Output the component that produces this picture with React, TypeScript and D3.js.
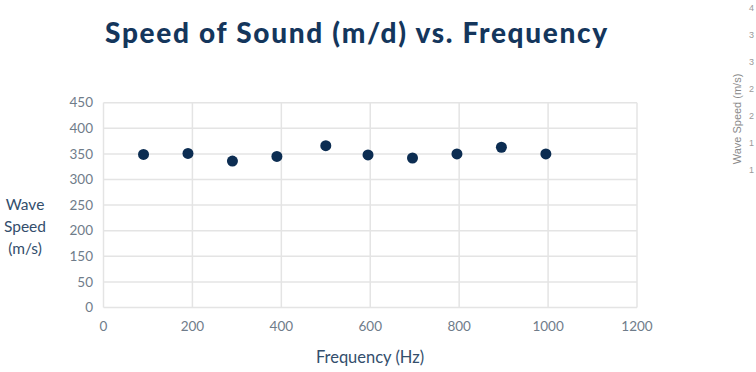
import React, { useEffect, useRef } from 'react';
import * as d3 from 'd3';

// measured data (frequency in Hz, wave speed in m/s)
const frequencies = [90, 190, 290, 390, 500, 595, 695, 795, 895, 995];
const speeds = [349, 351, 336, 345, 366, 348, 342, 350, 363, 350];

const xTicks = [0, 200, 400, 600, 800, 1000, 1200];
// the original chart skips the 100 label, gridlines stay evenly spaced
const yTicks = [0, 50, 150, 200, 250, 300, 350, 400, 450];

// fragment of a neighbouring chart cut off on the right edge
const sideTicks = ['4', '3', '3', '2', '2', '1', '1'];

const App = () => {
  const ref = useRef<SVGSVGElement>(null);

  useEffect(() => {
    const svg = d3.select(ref.current);
    svg.selectAll('*').remove();

    const left = 103.5;
    const right = 637;
    const top = 102.7;
    const bottom = 307.5;

    const x = d3.scaleLinear().domain([0, 1200]).range([left, right]);

    // polylinear scale so each label sits on its own evenly spaced gridline
    const step = (bottom - top) / (yTicks.length - 1);
    const y = d3
      .scaleLinear()
      .domain(yTicks)
      .range(yTicks.map((_, i) => bottom - i * step));

    const grid = svg.append('g');
    grid
      .selectAll('.hgrid')
      .data(yTicks)
      .enter()
      .append('line')
      .attr('x1', left)
      .attr('x2', right)
      .attr('y1', d => y(d))
      .attr('y2', d => y(d))
      .attr('stroke', '#e4e4e4')
      .attr('stroke-width', 1.5);
    grid
      .selectAll('.vgrid')
      .data(xTicks)
      .enter()
      .append('line')
      .attr('x1', d => x(d))
      .attr('x2', d => x(d))
      .attr('y1', top)
      .attr('y2', bottom)
      .attr('stroke', '#e4e4e4')
      .attr('stroke-width', 1.5);

    svg
      .append('g')
      .selectAll('text')
      .data(yTicks)
      .enter()
      .append('text')
      .attr('x', 93)
      .attr('y', d => y(d))
      .attr('dy', '0.35em')
      .attr('text-anchor', 'end')
      .attr('font-family', 'Lato')
      .attr('font-size', 13.5)
      .attr('fill', '#6f7c8a')
      .text(d => d);

    svg
      .append('g')
      .selectAll('text')
      .data(xTicks)
      .enter()
      .append('text')
      .attr('x', d => x(d))
      .attr('y', 331)
      .attr('text-anchor', 'middle')
      .attr('font-family', 'Lato')
      .attr('font-size', 13.5)
      .attr('fill', '#6f7c8a')
      .text(d => d);

    svg
      .append('g')
      .selectAll('circle')
      .data(frequencies)
      .enter()
      .append('circle')
      .attr('cx', (d, i) => x(d))
      .attr('cy', (d, i) => y(speeds[i]))
      .attr('r', 5.5)
      .attr('fill', '#0c2d52');

    svg
      .append('text')
      .attr('x', 357)
      .attr('y', 43)
      .attr('text-anchor', 'middle')
      .attr('font-family', 'Lato')
      .attr('font-weight', 900)
      .attr('font-size', 28)
      .attr('letter-spacing', 1.7)
      .attr('fill', '#14365c')
      .text('Speed of Sound (m/d) vs. Frequency');

    svg
      .append('text')
      .attr('x', 370)
      .attr('y', 363)
      .attr('text-anchor', 'middle')
      .attr('font-family', 'Lato')
      .attr('font-size', 16.5)
      .attr('fill', '#334e6c')
      .text('Frequency (Hz)');

    const yTitle = svg
      .append('text')
      .attr('text-anchor', 'middle')
      .attr('font-family', 'Lato')
      .attr('font-size', 15.5)
      .attr('fill', '#334e6c');
    ['Wave', 'Speed', '(m/s)'].forEach((line, i) => {
      yTitle
        .append('tspan')
        .attr('x', 25)
        .attr('y', 210 + i * 22)
        .text(line);
    });

    // clipped neighbour chart on the right edge
    svg
      .append('text')
      .attr('transform', 'translate(741,119) rotate(-90)')
      .attr('text-anchor', 'middle')
      .attr('font-family', 'Liberation Sans')
      .attr('font-size', 11)
      .attr('fill', '#8a8a8a')
      .text('Wave Speed (m/s)');
    svg
      .append('g')
      .selectAll('text')
      .data(sideTicks)
      .enter()
      .append('text')
      .attr('x', 749)
      .attr('y', (d, i) => 11 + i * 27)
      .attr('font-family', 'Liberation Sans')
      .attr('font-size', 9)
      .attr('fill', '#9a9a9a')
      .text(d => d);
  }, []);

  return (
    <svg
      ref={ref}
      width={756}
      height={372}
      style={{ position: 'absolute', left: 0, top: 0, background: '#fff' }}
    ></svg>
  );
};

export default App;
